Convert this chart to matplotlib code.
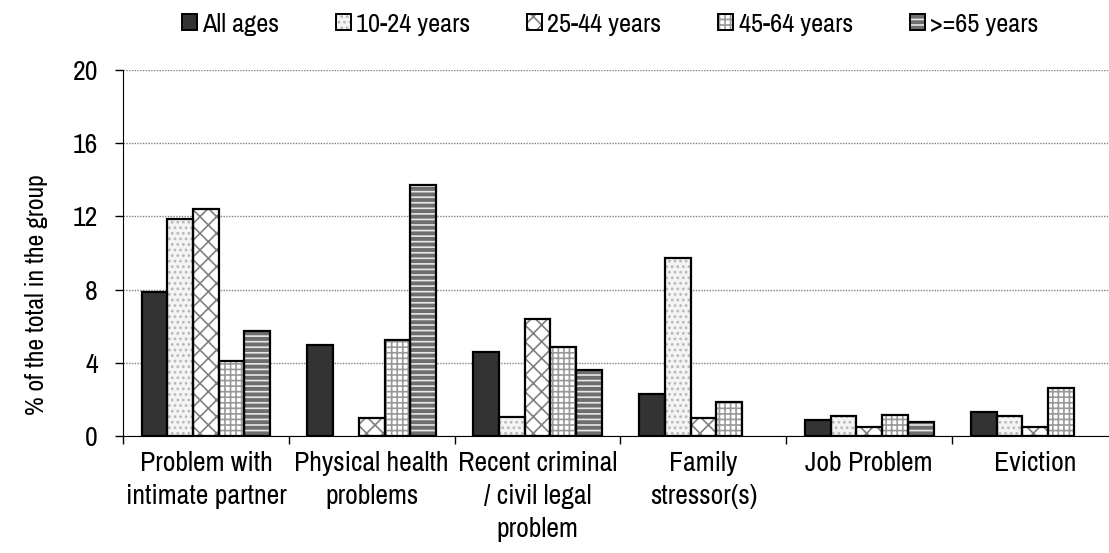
import matplotlib
matplotlib.use("Agg")
import matplotlib.pyplot as plt
import numpy as np
from matplotlib.patches import Patch
from matplotlib.ticker import FixedLocator
from matplotlib import font_manager

# data
categories = ["Problem with\nintimate partner", "Physical health\nproblems",
              "Recent criminal\n/ civil legal\nproblem", "Family\nstressor(s)",
              "Job Problem", "Eviction"]
series_names = ["All ages", "10-24 years", "25-44 years", "45-64 years", ">=65 years"]
all_ages = [7.85, 5.0, 4.6, 2.3, 0.9, 1.3]
age_10_24 = [11.85, 0.0, 1.05, 9.7, 1.1, 1.1]
age_25_44 = [12.4, 1.0, 6.4, 1.0, 0.5, 0.5]
age_45_64 = [4.1, 5.25, 4.85, 1.85, 1.15, 2.65]
age_65_up = [5.75, 13.7, 3.6, 0.0, 0.75, 0.0]
yticks = [0, 4, 8, 12, 16, 20]

# narrow sans like the original, first one installed
names = {f.name for f in font_manager.fontManager.ttflist}
font = "Liberation Sans"
for cand in ["Liberation Sans Narrow", "Arial Narrow", "Archivo Narrow",
             "Roboto Condensed", "PT Sans Narrow", "Pragati Narrow"]:
    if cand in names:
        font = cand
        break
plt.rcParams["font.family"] = [font, "DejaVu Sans"]
plt.rcParams["hatch.linewidth"] = 1.2

# (face, hatch, hatch colour)
styles = [
    ("#333333", None, "#333333"),
    ("#f4f4f4", "...", "#b8b8b8"),
    ("white", "xx", "#808080"),
    ("white", "+++", "#999999"),
    ("#6e6e6e", "---", "#e8e8e8"),
]

fig = plt.figure(figsize=(11.09, 5.53), dpi=100)
ax = fig.add_axes([123 / 1109, 117 / 553, 995 / 1109, 366 / 553])

x = np.arange(len(categories))
w = 0.155
data = [all_ages, age_10_24, age_25_44, age_45_64, age_65_up]
handles = []
for i, (vals, (fc, hatch, hc)) in enumerate(zip(data, styles)):
    pos = x + (i - 2) * w
    vals = np.array(vals)
    keep = vals > 0
    ax.bar(pos[keep], vals[keep], w, color=fc, hatch=hatch, edgecolor=hc, linewidth=0, zorder=3)
    ax.bar(pos[keep], vals[keep], w, fill=False, edgecolor="black", linewidth=1.6, zorder=4)
    handles.append((Patch(facecolor=fc, hatch=hatch, edgecolor=hc, linewidth=0),
                    Patch(fill=False, edgecolor="black", linewidth=1.4)))

ax.set_xlim(-0.5, len(categories) - 0.5)
ax.set_ylim(0, 20)
ax.set_yticks(yticks)
ax.tick_params(axis="y", labelsize=20, length=6, width=1, pad=12)
ax.set_xticks(x)
ax.set_xticklabels(categories, fontsize=20, linespacing=1.4)
ax.tick_params(axis="x", length=0, pad=11)
ax.xaxis.set_minor_locator(FixedLocator(np.arange(-0.5, len(categories), 1)))
ax.tick_params(axis="x", which="minor", length=6, width=1)

ax.grid(axis="y", color="#808080", linestyle=(0, (1, 1)), linewidth=1, zorder=0)
for s in ["top", "right"]:
    ax.spines[s].set_visible(False)

fig.text(37 / 1109, 1 - 295 / 553, "% of the total in the group", rotation=90,
         ha="center", va="center", fontsize=18.5)

fig.legend(handles, series_names, loc="center", bbox_to_anchor=(610 / 1109, 1 - 24 / 553),
           ncol=5, frameon=False, fontsize=19, handlelength=0.57, handleheight=0.57,
           handletextpad=0.2, columnspacing=2.15, borderpad=0)

fig.savefig("out.png", dpi=100)
